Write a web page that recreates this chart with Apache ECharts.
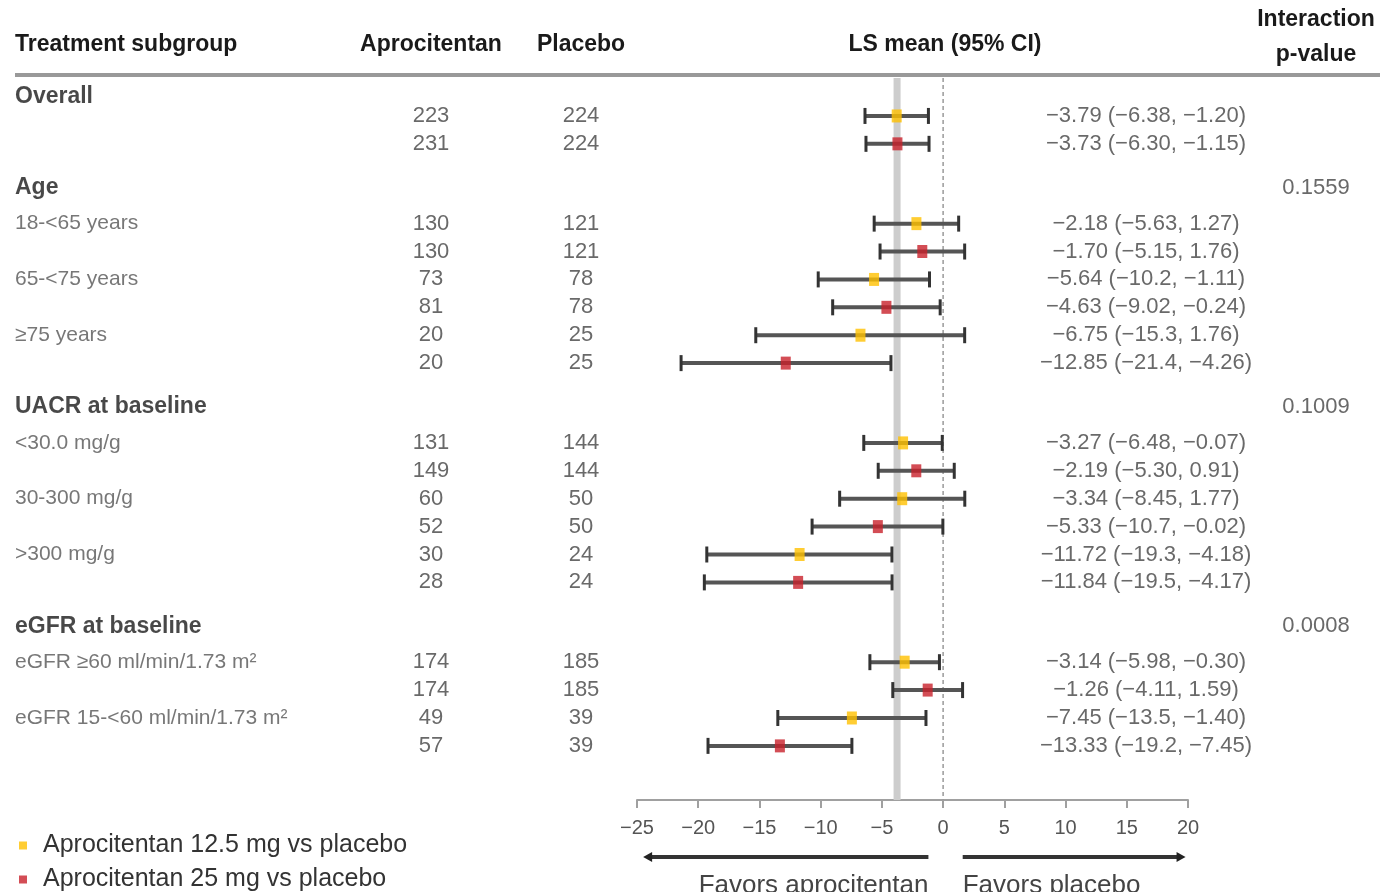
<!DOCTYPE html>
<html>
<head>
<meta charset="utf-8">
<title>Forest plot</title>
<script src="https://cdn.jsdelivr.net/npm/echarts@6/dist/echarts.min.js"></script>
<style>
    html, body { margin: 0; padding: 0; background: #fff; }
    #chart { width: 1380px; height: 892px; }
</style>
</head>
<body>
<div id="chart"></div>
<script>
// groups, each with a number of subgroups; every subgroup has two rows (12.5 mg, 25 mg)
var groupNames = ['Overall', 'Age', 'UACR at baseline', 'eGFR at baseline'];
var groupSizes = [1, 3, 3, 2];
var pValues = ['', '0.1559', '0.1009', '0.0008'];
var subgroupLabels = ['', '18-<65 years', '65-<75 years', '\u226575 years', '<30.0 mg/g', '30-300 mg/g', '>300 mg/g',
    'eGFR \u226560 ml/min/1.73 m\u00b2', 'eGFR 15-<60 ml/min/1.73 m\u00b2'];
var doseNames = ['Aprocitentan 12.5 mg vs placebo', 'Aprocitentan 25 mg vs placebo'];

var nAprocitentan = [223, 231, 130, 130, 73, 81, 20, 20, 131, 149, 60, 52, 30, 28, 174, 174, 49, 57];
var nPlacebo = [224, 224, 121, 121, 78, 78, 25, 25, 144, 144, 50, 50, 24, 24, 185, 185, 39, 39];
var lsMean = [-3.79, -3.73, -2.18, -1.70, -5.64, -4.63, -6.75, -12.85, -3.27, -2.19, -3.34, -5.33, -11.72, -11.84, -3.14, -1.26, -7.45, -13.33];
var ciLower = [-6.38, -6.30, -5.63, -5.15, -10.2, -9.02, -15.3, -21.4, -6.48, -5.30, -8.45, -10.7, -19.3, -19.5, -5.98, -4.11, -13.5, -19.2];
var ciUpper = [-1.20, -1.15, 1.27, 1.76, -1.11, -0.24, 1.76, -4.26, -0.07, 0.91, 1.77, -0.02, -4.18, -4.17, -0.30, 1.59, -1.40, -7.45];
var overallRef = -3.76;

var xMin = -25, xMax = 20, xInterval = 5;
var arrowLeft = [-1.2, -24.5];
var arrowRight = [1.6, 19.8];

var FONT = 'Liberation Sans, Arial, sans-serif';

(function () {
    // row layout (in row units)
    var rowPos = [], headerPos = [], subPos = [];
    var y = 0;
    groupSizes.forEach(function (n, g) {
        if (g === 0) {
            headerPos.push(y - 0.69);
        } else {
            y += 1.57;
            headerPos.push(y);
            y += 1.29;
        }
        for (var s = 0; s < n; s++) {
            subPos.push(y);
            rowPos.push(y, y + 1);
            y += 2;
        }
        y -= 1;
    });

    function minus(s) { return String(s).replace(/-/g, '\u2212'); }
    function fmtCi(v) { return minus(Math.abs(v) >= 10 ? v.toFixed(1) : v.toFixed(2)); }

    var yRange = { min: -1.36, max: 24.52 };

    var ciData = [], doseData = [[], []];
    var textApro = [], textPlac = [], textEst = [];
    rowPos.forEach(function (p, i) {
        ciData.push([ciLower[i], ciUpper[i], p]);
        doseData[i % 2].push([lsMean[i], p]);
        textApro.push([431, p, String(nAprocitentan[i])]);
        textPlac.push([581, p, String(nPlacebo[i])]);
        textEst.push([1146, p, minus(lsMean[i].toFixed(2)) + ' (' + fmtCi(ciLower[i]) + ', ' + fmtCi(ciUpper[i]) + ')']);
    });
    var textHeaders = [], textSub = [], textP = [];
    groupNames.forEach(function (name, g) {
        textHeaders.push([15, headerPos[g], name]);
        if (pValues[g]) textP.push([1316, headerPos[g], pValues[g]]);
    });
    subgroupLabels.forEach(function (lab, k) {
        if (lab) textSub.push([15, subPos[k], lab]);
    });

    function textSeries(data, align, color, size, weight) {
        return {
            type: 'scatter', xAxisIndex: 1, yAxisIndex: 1,
            symbolSize: 1, itemStyle: { color: 'transparent' },
            silent: true, z: 5,
            data: data,
            label: {
                show: true, position: 'inside', align: align, verticalAlign: 'middle',
                color: color, fontSize: size, fontWeight: weight || 'normal', fontFamily: FONT,
                formatter: function (p) { return p.value[2]; }
            }
        };
    }

    function legendFor(k) {
        return {
            left: 14, top: 828 + k * 34,
            itemWidth: 8, itemHeight: 8, icon: 'rect',
            textStyle: { fontSize: 25, color: '#333', fontFamily: FONT, padding: [0, 0, 0, 11] },
            data: [doseNames[k]]
        };
    }

    var chart = echarts.init(document.getElementById('chart'));
    var option = {
        animation: false,
        backgroundColor: '#fff',
        textStyle: { fontFamily: FONT },
        grid: [
            { left: 637, width: 551, top: 78, bottom: 92 },
            { left: 0, right: 0, top: 78, bottom: 92 }
        ],
        xAxis: [
            {
                type: 'value', gridIndex: 0, min: xMin, max: xMax, interval: xInterval,
                splitLine: { show: false },
                axisLine: { onZero: false, lineStyle: { color: '#a0a0a0', width: 2 } },
                axisTick: { length: 8, lineStyle: { color: '#a0a0a0', width: 2 } },
                axisLabel: { color: '#555', fontSize: 20, margin: 18, fontFamily: FONT, formatter: minus }
            },
            { type: 'value', gridIndex: 1, min: 0, max: 1380, show: false }
        ],
        yAxis: [
            { type: 'value', gridIndex: 0, inverse: true, min: yRange.min, max: yRange.max, show: false },
            { type: 'value', gridIndex: 1, inverse: true, min: yRange.min, max: yRange.max, show: false }
        ],
        legend: [legendFor(0), legendFor(1)],
        series: [
            {
                // vertical reference lines: overall LS mean band and zero
                type: 'custom', xAxisIndex: 0, yAxisIndex: 0, silent: true, z: 1,
                data: [[overallRef, 0], [0, 1]],
                renderItem: function (params, api) {
                    var cs = params.coordSys;
                    var x = api.coord([api.value(0), 0])[0];
                    var band = api.value(1) === 0;
                    return {
                        type: 'line',
                        shape: { x1: x, y1: cs.y, x2: x, y2: cs.y + cs.height },
                        style: band ? { stroke: '#cdcdcd', lineWidth: 7 }
                            : { stroke: '#9a9a9a', lineWidth: 1.5, lineDash: [4, 3] }
                    };
                }
            },
            {
                type: 'custom', xAxisIndex: 0, yAxisIndex: 0, silent: true, z: 2,
                data: ciData,
                renderItem: function (params, api) {
                    var yv = api.value(2);
                    var p1 = api.coord([api.value(0), yv]);
                    var p2 = api.coord([api.value(1), yv]);
                    var h = 8;
                    return {
                        type: 'group',
                        children: [
                            { type: 'line', shape: { x1: p1[0], y1: p1[1], x2: p2[0], y2: p2[1] }, style: { stroke: '#555', lineWidth: 4 } },
                            { type: 'line', shape: { x1: p1[0], y1: p1[1] - h, x2: p1[0], y2: p1[1] + h }, style: { stroke: '#333', lineWidth: 3 } },
                            { type: 'line', shape: { x1: p2[0], y1: p2[1] - h, x2: p2[0], y2: p2[1] + h }, style: { stroke: '#333', lineWidth: 3 } }
                        ]
                    };
                }
            },
            {
                name: doseNames[0], type: 'scatter', xAxisIndex: 0, yAxisIndex: 0, z: 3,
                symbol: 'rect', symbolSize: [10, 13], itemStyle: { color: '#FFC000' },
                data: doseData[0]
            },
            {
                name: doseNames[1], type: 'scatter', xAxisIndex: 0, yAxisIndex: 0, z: 3,
                symbol: 'rect', symbolSize: [10, 13], itemStyle: { color: '#C8202A' },
                data: doseData[1]
            },
            textSeries(textHeaders, 'left', '#1a1a1a', 23, 'bold'),
            textSeries(textSub, 'left', '#555', 21),
            textSeries(textApro, 'center', '#444', 22),
            textSeries(textPlac, 'center', '#444', 22),
            textSeries(textEst, 'center', '#444', 22),
            textSeries(textP, 'center', '#444', 22)
        ]
    };
    chart.setOption(option);

    // header row, rule and the "favors" arrows below the axis
    function px(v) { return chart.convertToPixel({ xAxisIndex: 0 }, v); }
    var headStyle = { fill: '#1a1a1a', fontSize: 23, fontWeight: 'bold', fontFamily: FONT, verticalAlign: 'middle' };
    function head(text, x, yy, align) {
        return { type: 'text', x: x, y: yy, style: echarts.util.extend({ text: text, align: align }, headStyle) };
    }
    function arrow(from, to) {
        var x1 = px(from), x2 = px(to), ya = 857, dir = x2 > x1 ? 1 : -1;
        return [
            { type: 'line', shape: { x1: x1, y1: ya, x2: x2 - dir * 4, y2: ya }, style: { stroke: '#333', lineWidth: 4 } },
            { type: 'polygon', shape: { points: [[x2, ya], [x2 - dir * 9, ya - 5], [x2 - dir * 9, ya + 5]] }, style: { fill: '#222' } }
        ];
    }
    var favStyle = { fill: '#444', fontSize: 26, fontFamily: FONT, verticalAlign: 'middle' };
    var graphic = [
        head('Treatment subgroup', 15, 45, 'left'),
        head('Aprocitentan', 431, 45, 'center'),
        head('Placebo', 581, 45, 'center'),
        head('LS mean (95% CI)', 945, 45, 'center'),
        head('Interaction', 1316, 20, 'center'),
        head('p-value', 1316, 55, 'center'),
        { type: 'line', shape: { x1: 15, y1: 75, x2: 1380, y2: 75 }, style: { stroke: '#999', lineWidth: 4 } },
        { type: 'text', x: px(arrowLeft[0]), y: 886, style: echarts.util.extend({ text: 'Favors aprocitentan', align: 'right' }, favStyle) },
        { type: 'text', x: px(arrowRight[0]), y: 886, style: echarts.util.extend({ text: 'Favors placebo', align: 'left' }, favStyle) }
    ].concat(arrow(arrowLeft[0], arrowLeft[1]), arrow(arrowRight[0], arrowRight[1]));
    chart.setOption({ graphic: graphic });
})();
</script>
</body>
</html>
